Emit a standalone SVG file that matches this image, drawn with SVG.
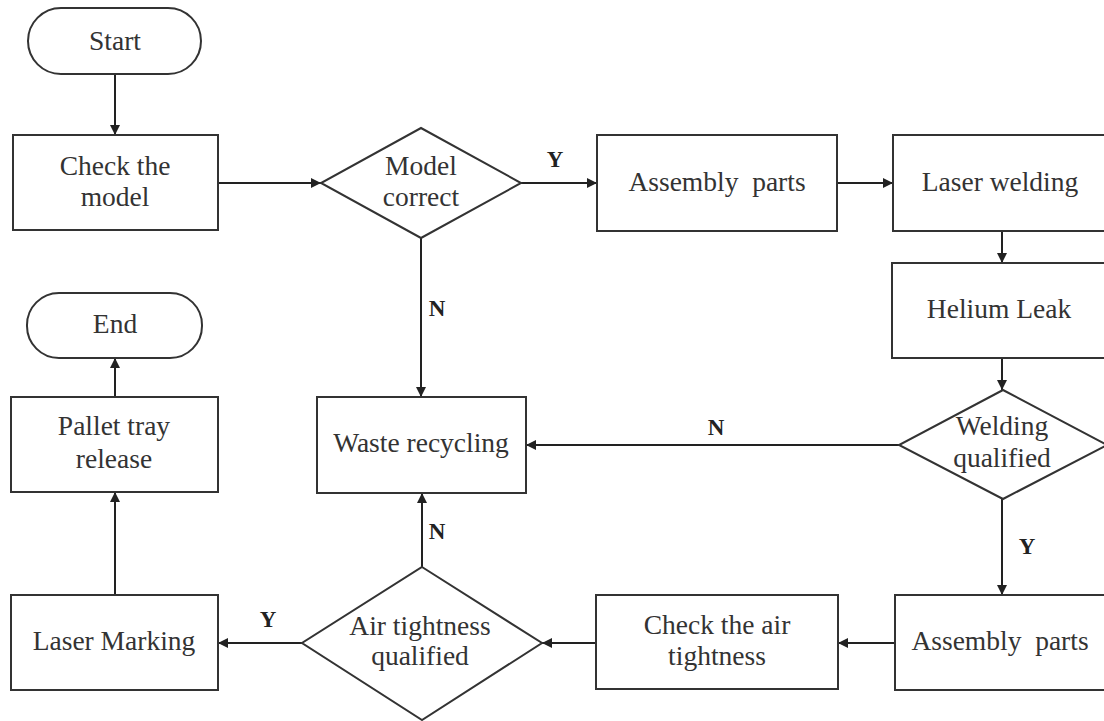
<svg xmlns="http://www.w3.org/2000/svg" width="1104" height="721" viewBox="0 0 1104 721">
<defs>
<marker id="ah" viewBox="0 0 10 10" refX="10" refY="5" markerWidth="11" markerHeight="10" markerUnits="userSpaceOnUse" orient="auto">
<path d="M0,0 L10,5 L0,10 z" fill="#222"/>
</marker>
</defs>
<style>
.box{fill:#fff;stroke:#333;stroke-width:2}
.t{font-family:"Liberation Serif","Times New Roman",serif;font-size:27.5px;fill:#333;text-anchor:middle;white-space:pre}
.lb{font-family:"Liberation Serif","Times New Roman",serif;font-size:23px;font-weight:bold;fill:#222;text-anchor:middle}
.c{fill:none;stroke:#222;stroke-width:2;marker-end:url(#ah)}
</style>
<rect width="1104" height="721" fill="#fff"/>
<g id="connectors">
<line class="c" x1="115" y1="74" x2="115" y2="135"/>
<line class="c" x1="218" y1="183" x2="321" y2="183"/>
<line class="c" x1="521" y1="183" x2="597" y2="183"/>
<line class="c" x1="837" y1="183" x2="893" y2="183"/>
<line class="c" x1="1002" y1="231" x2="1002" y2="263"/>
<line class="c" x1="1002" y1="358" x2="1002" y2="390"/>
<line class="c" x1="899" y1="445" x2="526" y2="445"/>
<line class="c" x1="1002" y1="499" x2="1002" y2="595"/>
<line class="c" x1="421" y1="238" x2="421" y2="397"/>
<line class="c" x1="895" y1="643" x2="838" y2="643"/>
<line class="c" x1="596" y1="643" x2="542" y2="643"/>
<line class="c" x1="422" y1="567" x2="422" y2="493"/>
<line class="c" x1="302" y1="643" x2="218" y2="643"/>
<line class="c" x1="115" y1="595" x2="115" y2="492"/>
<line class="c" x1="115" y1="397" x2="115" y2="358"/>
<text class="lb" x="555" y="167">Y</text>
<text class="lb" x="437" y="316">N</text>
<text class="lb" x="716" y="435">N</text>
<text class="lb" x="1027" y="554">Y</text>
<text class="lb" x="437" y="539">N</text>
<text class="lb" x="268" y="627">Y</text>
</g>
<g id="start"><rect class="box" x="28" y="8" width="173" height="66" rx="33"/><text class="t" x="115" y="50">Start</text></g>
<g id="check-model"><rect class="box" x="13" y="135" width="205" height="95"/><text class="t" x="115" y="175">Check the</text><text class="t" x="115" y="206">model</text></g>
<g id="model-correct"><polygon class="box" points="421,128 521,183 421,238 321,183"/><text class="t" x="421" y="175">Model</text><text class="t" x="421" y="206">correct</text></g>
<g id="assembly1"><rect class="box" x="597" y="135" width="240" height="96"/><text class="t" x="717" y="191">Assembly  parts</text></g>
<g id="laser-welding"><rect class="box" x="893" y="135" width="230" height="96"/><text class="t" x="1000" y="191">Laser welding</text></g>
<g id="helium-leak"><rect class="box" x="892" y="263" width="230" height="95"/><text class="t" x="999" y="318">Helium Leak</text></g>
<g id="welding-qualified"><polygon class="box" points="1003,390 1107,445 1003,499 899,445"/><text class="t" x="1002" y="435">Welding</text><text class="t" x="1002" y="467">qualified</text></g>
<g id="waste"><rect class="box" x="317" y="397" width="209" height="96"/><text class="t" x="421" y="452">Waste recycling</text></g>
<g id="assembly2"><rect class="box" x="895" y="595" width="230" height="95"/><text class="t" x="1000" y="650">Assembly  parts</text></g>
<g id="check-air"><rect class="box" x="596" y="595" width="242" height="94"/><text class="t" x="717" y="634">Check the air</text><text class="t" x="717" y="665">tightness</text></g>
<g id="air-qualified"><polygon class="box" points="422,567 542,643 422,720 302,643"/><text class="t" x="420" y="635">Air tightness</text><text class="t" x="420" y="665">qualified</text></g>
<g id="laser-marking"><rect class="box" x="11" y="595" width="207" height="95"/><text class="t" x="114" y="650">Laser Marking</text></g>
<g id="pallet"><rect class="box" x="11" y="397" width="207" height="95"/><text class="t" x="114" y="435">Pallet tray</text><text class="t" x="114" y="468">release</text></g>
<g id="end"><rect class="box" x="27" y="293" width="175" height="65" rx="32"/><text class="t" x="115" y="333">End</text></g>
</svg>
